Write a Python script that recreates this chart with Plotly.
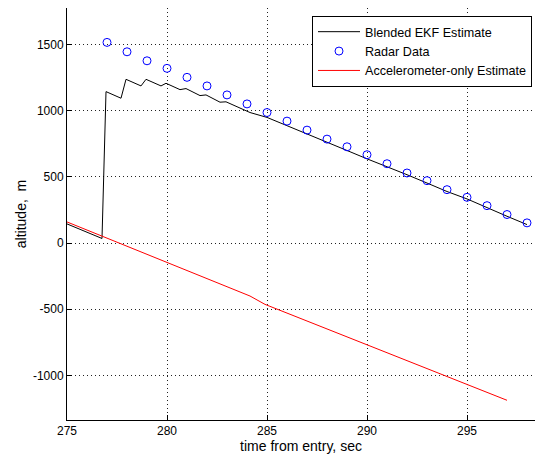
import plotly.graph_objects as go

# Blended EKF estimate (time, altitude)
ekf_t = [275, 276.75, 276.95, 277.7, 277.95, 278.7, 278.95, 279.7, 279.95, 280.65, 280.95,
         281.65, 281.95, 282.65, 282.95, 283.9, 284.15, 285, 286, 287, 288, 289, 290, 291,
         292, 293, 294, 295, 296, 297, 298]
ekf_alt = [145, 35, 1145, 1095, 1238, 1188, 1238, 1188, 1208, 1160, 1168,
           1115, 1120, 1065, 1068, 1000, 987, 950, 886, 826, 763, 700, 637, 580,
           517, 454, 390, 334, 266, 203, 140]

# Radar data
radar_t = [277, 278, 279, 280, 281, 282, 283, 284, 285, 286, 287, 288, 289, 290, 291,
           292, 293, 294, 295, 296, 297, 298]
radar_alt = [1517, 1446, 1378, 1321, 1253, 1188, 1120, 1052, 987, 922, 854, 786, 728, 668,
             600, 530, 472, 404, 346, 283, 216, 153]

# Accelerometer-only estimate
acc_t = [275, 284.15, 284.9, 297]
acc_alt = [160, -400, -463, -1188]

x_ticks = [275, 280, 285, 290, 295]
y_ticks = [-1000, -500, 0, 500, 1000, 1500]
y_tick_labels = ["-1000", "-500", "0", "500", "1000", "1500"]

fig = go.Figure()
fig.add_trace(go.Scatter(x=ekf_t, y=ekf_alt, mode="lines", name="Blended EKF Estimate",
                         line=dict(color="black", width=1)))
fig.add_trace(go.Scatter(x=radar_t, y=radar_alt, mode="markers", name="Radar Data",
                         marker=dict(symbol="circle-open", color="blue", size=8,
                                     line=dict(width=1, color="blue"))))
fig.add_trace(go.Scatter(x=acc_t, y=acc_alt, mode="lines", name="Accelerometer-only Estimate",
                         line=dict(color="red", width=1)))

axis_common = dict(showgrid=True, gridcolor="#222222", griddash="1px,3px", gridwidth=1,
                   zeroline=False, showline=True, linecolor="black", linewidth=1,
                   ticks="inside", ticklen=5, tickcolor="black",
                   tickfont=dict(family="Liberation Sans, Arial", size=12, color="black"))

fig.update_layout(
    width=535, height=458,
    margin=dict(l=67, r=0, t=8, b=38),
    paper_bgcolor="white", plot_bgcolor="white",
    font=dict(family="Liberation Sans, Arial", size=12, color="black"),
    xaxis=dict(range=[275, 298.4], tickvals=x_ticks,
               title=dict(text="time from entry, sec", standoff=3), **axis_common),
    yaxis=dict(range=[-1337, 1777], tickvals=y_ticks, ticktext=y_tick_labels,
               title=dict(text="altitude, \u00a0m", standoff=2), **axis_common),
    legend=dict(x=0.9936, y=0.9806, xanchor="right", yanchor="top",
                bgcolor="white", bordercolor="black", borderwidth=1,
                itemwidth=42,
                font=dict(family="Liberation Sans, Arial", size=12.6, color="black"),
                tracegroupgap=0),
    showlegend=True,
)

fig.write_html("out.html")
